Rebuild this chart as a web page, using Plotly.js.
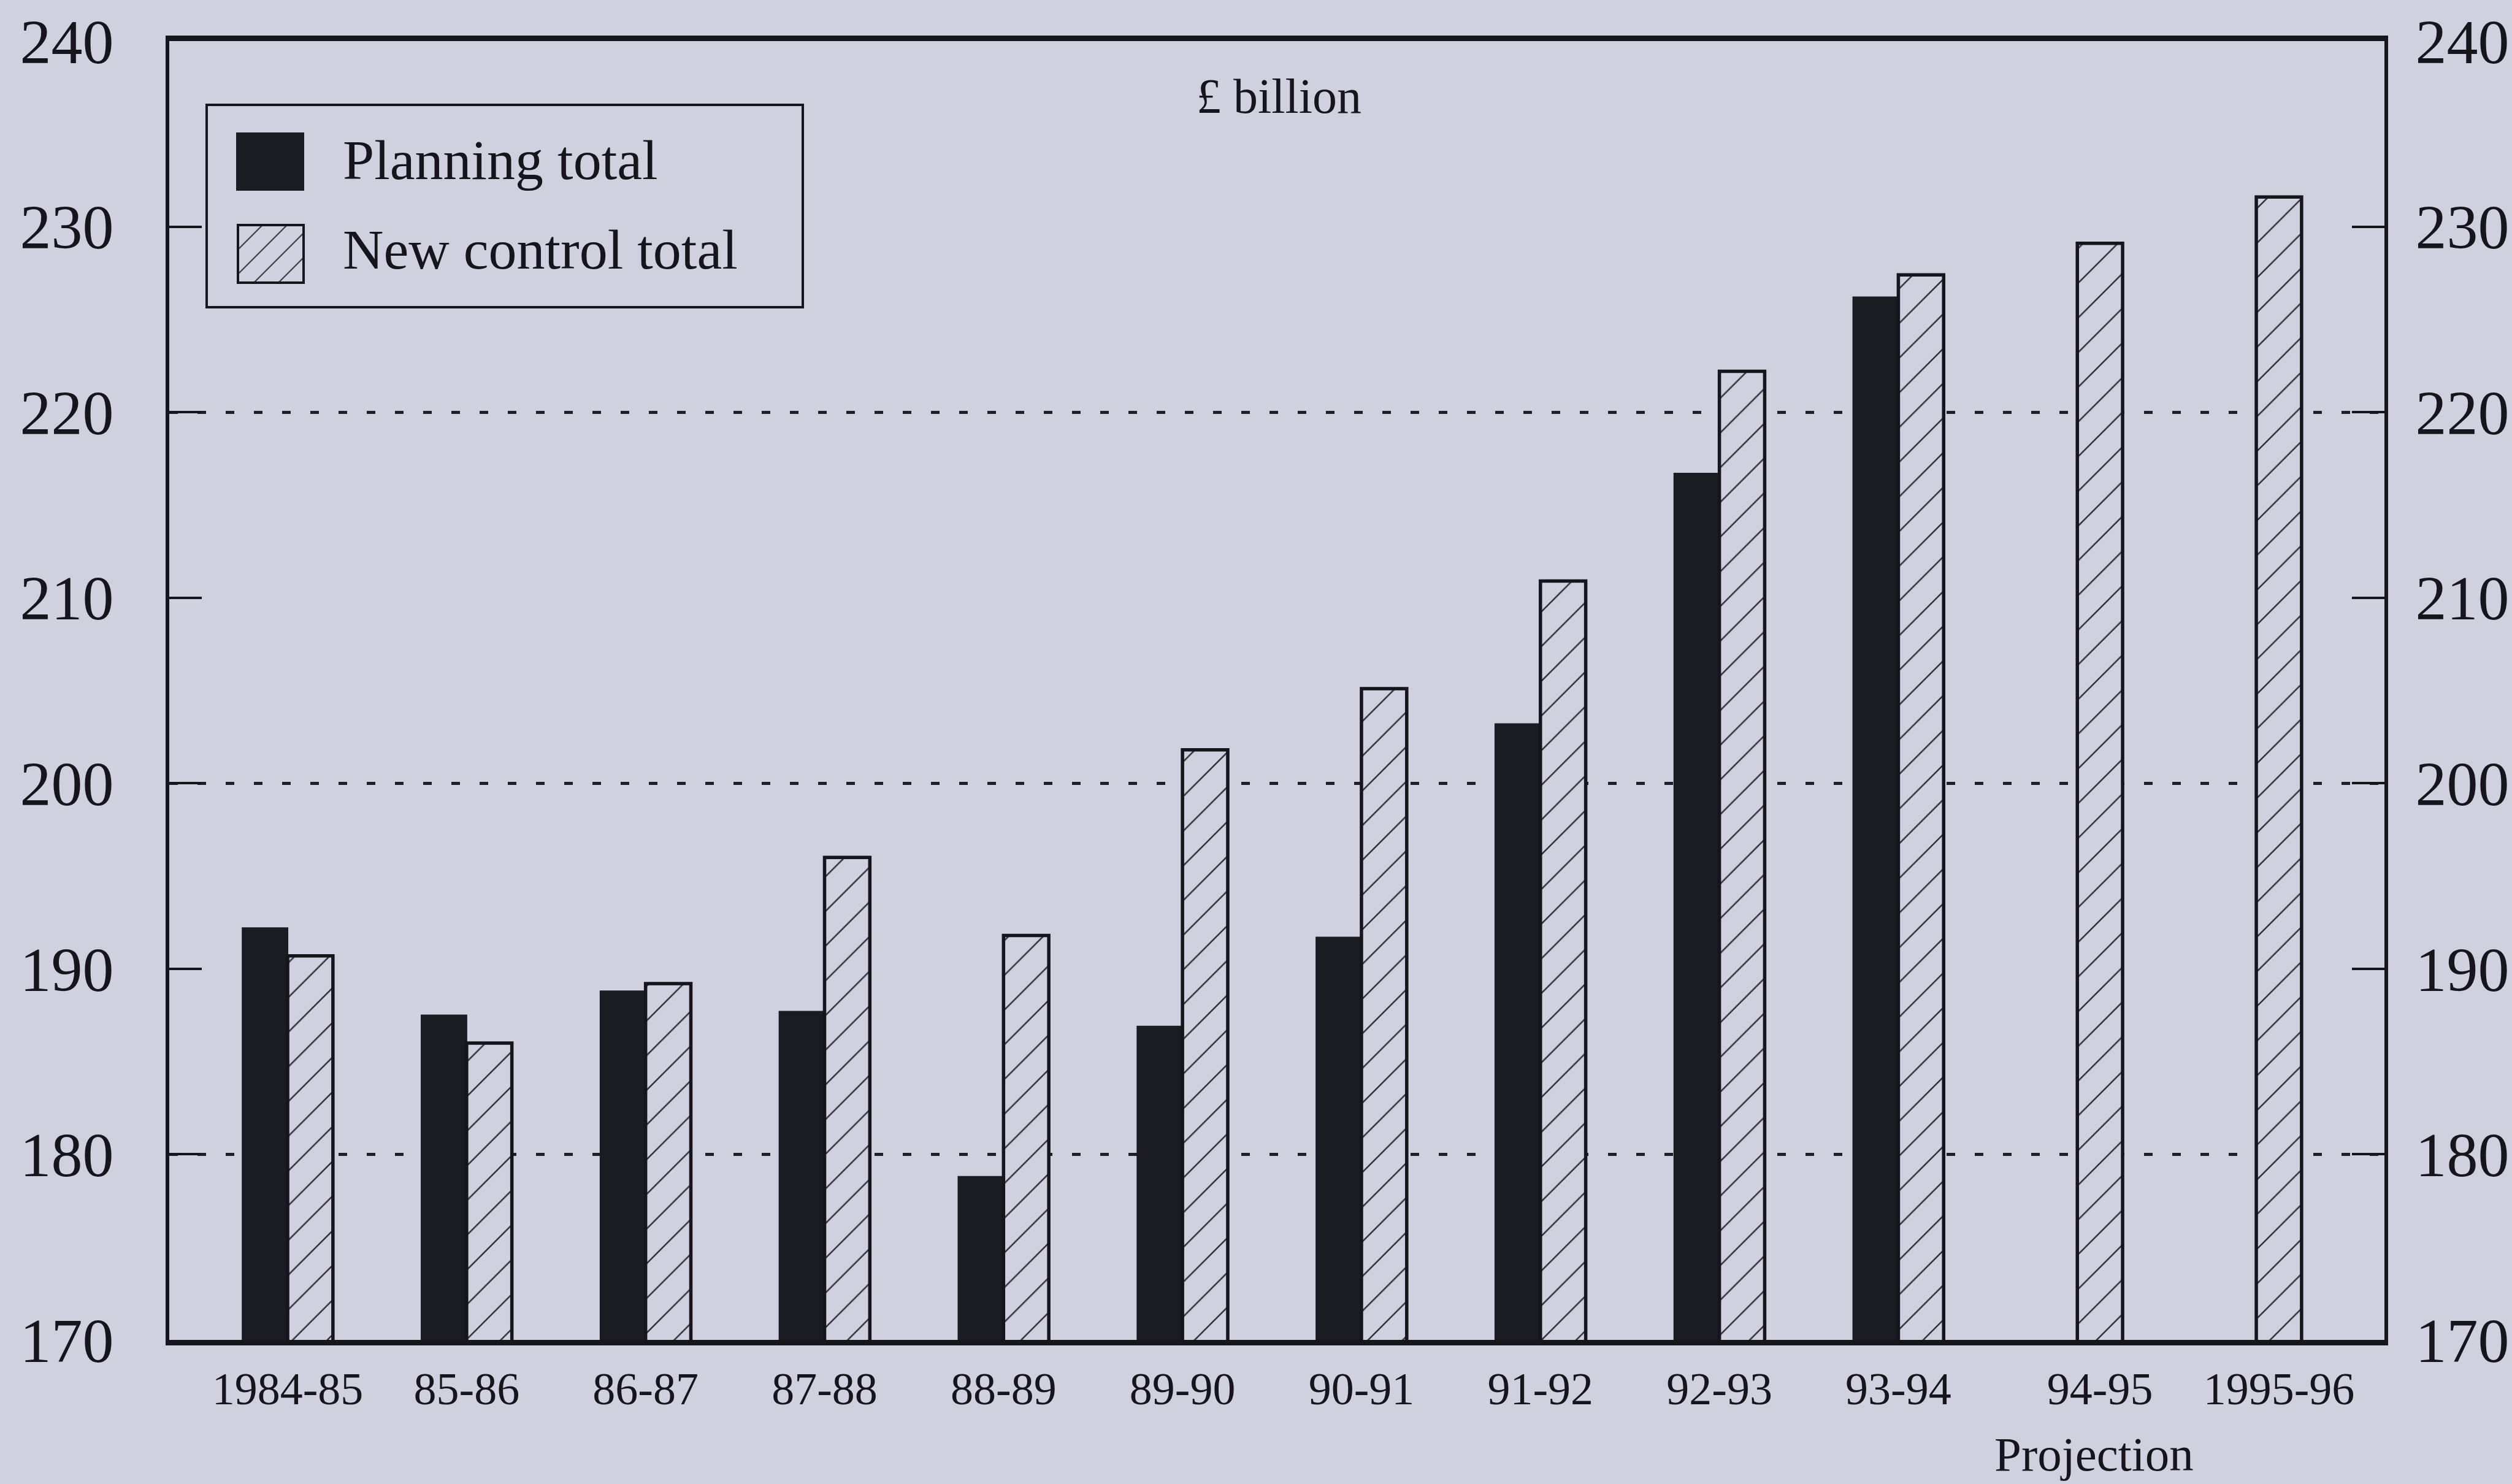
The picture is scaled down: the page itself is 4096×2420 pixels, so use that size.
<!DOCTYPE html>
<html>
<head>
<meta charset="utf-8">
<script src="https://cdn.plot.ly/plotly-3.0.1.min.js"></script>
<style>
html,body{margin:0;padding:0;background:#cfd1df;}
#chart{width:4096px;height:2420px;}
</style>
</head>
<body>
<div id="chart"></div>
<script>
// ---- data ----
const categories = ['1984-85','85-86','86-87','87-88','88-89','89-90','90-91','91-92','92-93','93-94','94-95','1995-96'];
const planningTotal   = [192.2, 187.5, 188.8, 187.7, 178.8, 186.9, 191.7, 203.2, 216.7, 226.2, null, null];
const newControlTotal = [190.7, 186.0, 189.2, 196.0, 191.8, 201.8, 205.1, 210.9, 222.2, 227.4, 229.1, 231.6];
const yTickValues = [170, 180, 190, 200, 210, 220, 230, 240];
const gridValues = [180, 200, 220];
const seriesNames = ['Planning total', 'New control total'];
const unitLabel = '£ billion';
const projectionLabel = 'Projection';

// ---- styling / layout ----
const W = 4096, H = 2420;
const M = {l: 276, r: 208, t: 67, b: 235};
const PW = W - M.l - M.r, PH = H - M.t - M.b;
const BG = '#cfd1df';
const INK = '#15151b';
const FONT = "'Liberation Serif', 'Times New Roman', serif";
const yRange = [170, 240];
const xRange = [-0.6615, 11.716];
const bargap = 0.494;
const barW = (1 - bargap) / 2;

const px = x => (x - M.l) / PW;
const py = y => (M.t + PH - y) / PH;

// tick label positions: under the group, or under the lone hatched bar
const labelPos = categories.map((c, i) => i + (planningTotal[i] == null ? barW / 2 : 0));

const traces = [
  {
    type: 'bar', name: seriesNames[0], x: categories, y: planningTotal,
    marker: {color: '#1b1b22', line: {color: '#1b1b22', width: 2}},
    showlegend: false, hoverinfo: 'x+y+name'
  },
  {
    type: 'bar', name: seriesNames[1], x: categories, y: newControlTotal,
    marker: {
      color: BG, line: {color: INK, width: 5.5},
      pattern: {shape: '/', size: 40, solidity: 0.06, fgcolor: '#2b2b33', bgcolor: BG, fillmode: 'replace'}
    },
    showlegend: false, hoverinfo: 'x+y+name'
  },
  // empty helper traces so the overlay axes (labels, right axis, dotted grid) are drawn
  {type: 'scatter', mode: 'markers', x: [], y: [], xaxis: 'x2', yaxis: 'y', showlegend: false, hoverinfo: 'skip'},
  {type: 'scatter', mode: 'markers', x: [], y: [], xaxis: 'x', yaxis: 'y2', showlegend: false, hoverinfo: 'skip'},
  {type: 'scatter', mode: 'markers', x: [], y: [], xaxis: 'x', yaxis: 'y3', showlegend: false, hoverinfo: 'skip'}
];

// manual legend (large swatches like the print original)
const shapes = [];
const annotations = [];
shapes.push({type: 'rect', xref: 'paper', yref: 'paper', x0: px(337), x1: px(1309), y0: py(501), y1: py(171),
  line: {color: INK, width: 4}, fillcolor: BG, layer: 'above'});
shapes.push({type: 'rect', xref: 'paper', yref: 'paper', x0: px(386), x1: px(495), y0: py(310), y1: py(217),
  line: {color: '#1b1b22', width: 2}, fillcolor: '#1b1b22', layer: 'above'});
(function hatch(x0, x1, yt, yb, step) {
  const h = yb - yt;
  for (let c = x0 - h; c < x1; c += step) {
    const t0 = Math.max(0, x0 - c), t1 = Math.min(h, x1 - c);
    if (t1 - t0 > 2) {
      shapes.push({type: 'line', xref: 'paper', yref: 'paper',
        x0: px(c + t0), y0: py(yb - t0), x1: px(c + t1), y1: py(yb - t1),
        line: {color: '#3a3a42', width: 2.2}, layer: 'above'});
    }
  }
})(388, 495, 367, 461, 40);
shapes.push({type: 'rect', xref: 'paper', yref: 'paper', x0: px(388), x1: px(495), y0: py(461), y1: py(367),
  line: {color: INK, width: 4}, fillcolor: 'rgba(0,0,0,0)', layer: 'above'});

annotations.push({xref: 'paper', yref: 'paper', x: px(557), y: py(261), xanchor: 'left', yanchor: 'middle',
  text: seriesNames[0], showarrow: false, font: {family: FONT, size: 92, color: INK}});
annotations.push({xref: 'paper', yref: 'paper', x: px(557), y: py(407), xanchor: 'left', yanchor: 'middle',
  text: seriesNames[1], showarrow: false, font: {family: FONT, size: 92, color: INK}});
annotations.push({xref: 'paper', yref: 'paper', x: px(2085), y: py(157), xanchor: 'center', yanchor: 'middle',
  text: unitLabel, showarrow: false, font: {family: FONT, size: 80, color: INK}});
annotations.push({xref: 'paper', yref: 'paper', x: px(3414), y: py(2371), xanchor: 'center', yanchor: 'middle',
  text: projectionLabel, showarrow: false, font: {family: FONT, size: 79, color: INK}});

const yCommon = {
  range: yRange, tickvals: yTickValues, ticks: 'inside', ticklen: 53, tickwidth: 4, tickcolor: INK,
  showline: true, linewidth: 6, linecolor: INK, showgrid: false, zeroline: false,
  tickfont: {family: FONT, size: 102, color: INK}, fixedrange: true
};

const layout = {
  width: W, height: H,
  margin: {l: M.l, r: M.r, t: M.t, b: M.b, pad: 0},
  paper_bgcolor: BG, plot_bgcolor: BG,
  font: {family: FONT, color: INK},
  barmode: 'group', bargap: bargap, bargroupgap: 0,
  showlegend: false,
  xaxis: {
    type: 'category', range: xRange, showticklabels: false, ticks: '',
    showline: true, linewidth: 9, linecolor: INK, mirror: true,
    showgrid: false, zeroline: false, fixedrange: true
  },
  xaxis2: {
    overlaying: 'x', side: 'bottom', anchor: 'y', type: 'linear', range: xRange,
    tickvals: labelPos, ticktext: categories, ticks: '', showline: false, showgrid: false, zeroline: false,
    tickfont: {family: FONT, size: 74, color: INK}, ticklabelstandoff: 30, fixedrange: true
  },
  yaxis: Object.assign({}, yCommon, {side: 'left', ticklabelstandoff: 64}),
  yaxis2: Object.assign({}, yCommon, {overlaying: 'y', side: 'right', anchor: 'x', ticklabelstandoff: 24}),
  yaxis3: {
    overlaying: 'y', side: 'left', anchor: 'x', range: yRange, tickvals: gridValues, showticklabels: false, ticks: '',
    showline: false, zeroline: false, showgrid: true, gridcolor: '#1e1e24', gridwidth: 5,
    griddash: '14px,32px', fixedrange: true
  },
  shapes: shapes,
  annotations: annotations
};

Plotly.newPlot('chart', traces, layout, {displayModeBar: false, responsive: false});
</script>
</body>
</html>
